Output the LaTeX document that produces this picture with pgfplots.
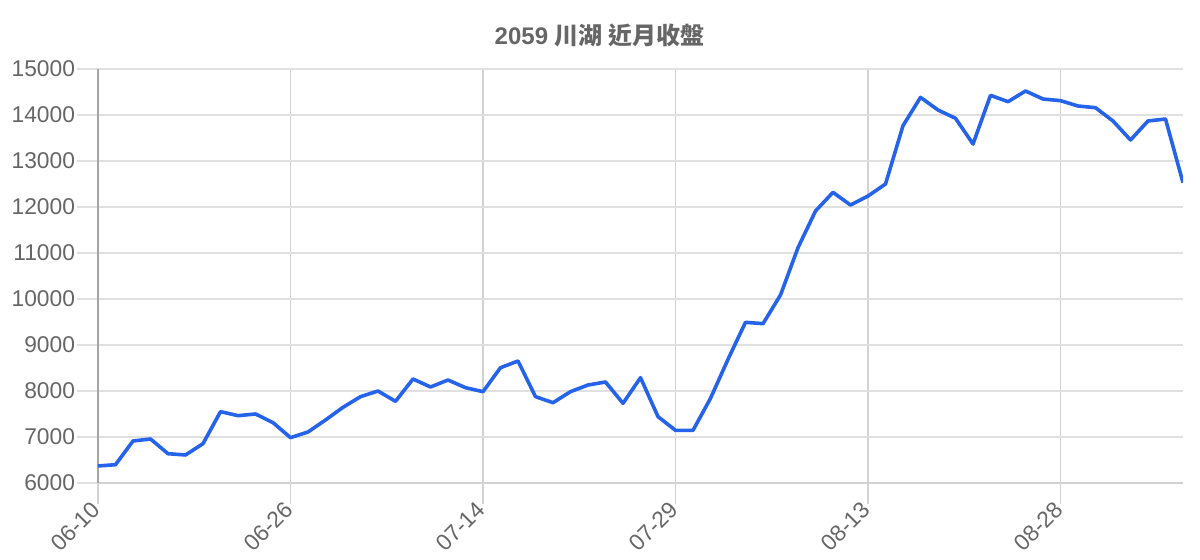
\documentclass[border=0pt]{standalone}
\usepackage{pgfplots}
\pgfplotsset{compat=1.18}
\usepackage{fontspec}
\setmainfont{Liberation Sans}
\newfontfamily\cjk{Noto Sans CJK TC}

\definecolor{linecol}{RGB}{37,99,235}
\definecolor{txt}{RGB}{102,102,102}
\definecolor{hgrid}{RGB}{224,224,224}
\definecolor{vgrid}{RGB}{210,210,210}
\definecolor{axiscol}{RGB}{165,165,165}

\begin{document}
\begin{tikzpicture}
\useasboundingbox (-49bp,-38.5bp) rectangle (551bp,241.5bp);
\begin{axis}[
    at={(0,0)}, anchor=south west,
    scale only axis,
    width=542.5bp, height=207bp,
    xmin=0, xmax=62,
    ymin=6000, ymax=15000,
    ytick={6000,7000,8000,9000,10000,11000,12000,13000,14000,15000},
    xtick={0,11,22,33,44,55},
    xticklabels={06-10,06-26,07-14,07-29,08-13,08-28},
    scaled y ticks=false,
    /pgf/number format/1000 sep={},
    /pgf/number format/assume math mode=true,
    axis lines*=left,
    x axis line style={draw=vgrid, line width=0.7bp},
    y axis line style={draw=axiscol, line width=0.7bp},
    tick align=outside,
    major tick length=10.5bp,
    xtick style={draw=vgrid, line width=0.6bp},
    ytick style={draw=hgrid, line width=0.6bp},
    xmajorgrids, ymajorgrids,
    x grid style={draw=vgrid, line width=0.6bp},
    y grid style={draw=hgrid, line width=0.6bp},
    tick label style={font=\fontsize{11.4bp}{13bp}\selectfont, text=txt},
    yticklabel style={inner sep=0.8bp},
    xticklabel style={rotate=45, anchor=east, inner sep=1bp},
]
\addplot[color=linecol, line width=1.8bp, line join=round] coordinates {
    (0,6370)(1,6398)(2,6913)(3,6957)(4,6637)(5,6609)(6,6855)(7,7551)
    (8,7464)(9,7500)(10,7312)(11,6986)(12,7109)(13,7370)(14,7645)(15,7877)
    (16,8000)(17,7775)(18,8261)(19,8087)(20,8239)(21,8072)(22,7986)(23,8507)
    (24,8652)(25,7877)(26,7746)(27,7986)(28,8130)(29,8196)(30,7732)(31,8290)
    (32,7442)(33,7145)(34,7145)(35,7841)(36,8689)(37,9493)(38,9464)(39,10087)
    (40,11116)(41,11913)(42,12319)(43,12043)(44,12239)(45,12500)(46,13768)(47,14384)
    (48,14109)(49,13928)(50,13370)(51,14428)(52,14290)(53,14522)(54,14348)(55,14312)
    (56,14196)(57,14159)(58,13870)(59,13457)(60,13870)(61,13913)(62,12529)
};
\end{axis}
\node[font=\fontsize{12bp}{14bp}\selectfont\bfseries, text=txt] at (250.75bp,224bp)
    {2059 {\cjk 川湖 近月收盤}};
\end{tikzpicture}
\end{document}
